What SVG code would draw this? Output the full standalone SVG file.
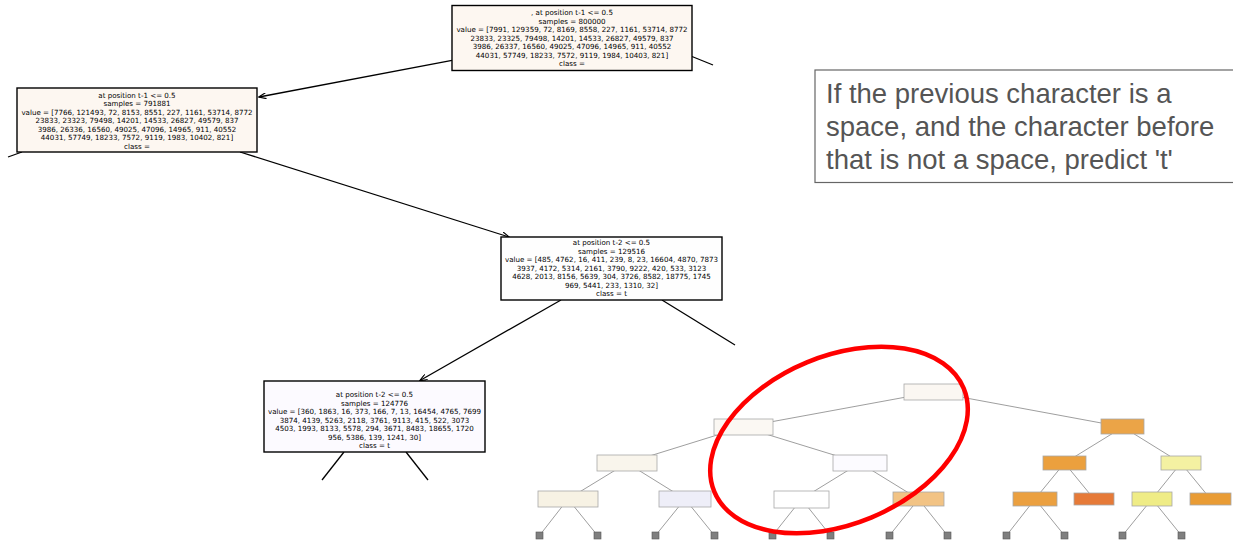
<svg xmlns="http://www.w3.org/2000/svg" width="1233" height="543" viewBox="0 0 1233 543">
<style>
.big{stroke:#000;stroke-width:1.4}
.bt{font-family:"DejaVu Sans",sans-serif;font-size:7.1px;fill:#000;text-anchor:middle}
.ed{stroke:#000;stroke-width:1.3;fill:none}
.se{stroke:#858585;stroke-width:0.8;fill:none}
.sn{stroke:#a8a8a8;stroke-width:0.8}
.lf{fill:#7f7f7f;stroke:#555;stroke-width:0.6}
.call{font-family:"Liberation Sans",Arial,sans-serif;font-size:27.5px;fill:#555}
</style>
<defs>
<marker id="ah" viewBox="0 0 10 8" refX="9.5" refY="4" markerWidth="8" markerHeight="6" orient="auto" markerUnits="userSpaceOnUse">
<path d="M0,0 L10,4 L0,8" fill="none" stroke="#000" stroke-width="1.5"/>
</marker>
</defs>
<rect width="1233" height="543" fill="#fff"/>

<g id="connectors">
<line class="ed" x1="452" y1="60.3" x2="259" y2="97" marker-end="url(#ah)"/>
<line class="ed" x1="692" y1="56.5" x2="713" y2="65"/>
<line class="ed" x1="22" y1="152" x2="8" y2="157"/>
<line class="ed" x1="240" y1="152" x2="509" y2="237" marker-end="url(#ah)"/>
<line class="ed" x1="561" y1="300" x2="420" y2="380.5" marker-end="url(#ah)"/>
<line class="ed" x1="662" y1="300" x2="735" y2="345"/>
<line class="ed" x1="344" y1="452" x2="322" y2="480"/>
<line class="ed" x1="406" y1="452" x2="428" y2="480"/>
<!-- small tree -->
<line class="se" x1="933.5" y1="392" x2="743" y2="427"/>
<line class="se" x1="933.5" y1="392" x2="1123" y2="427"/>
<line class="se" x1="743" y1="427" x2="627" y2="463"/>
<line class="se" x1="743" y1="427" x2="860" y2="463"/>
<line class="se" x1="1123" y1="427" x2="1064.5" y2="463"/>
<line class="se" x1="1123" y1="427" x2="1181" y2="463"/>
<line class="se" x1="627" y1="463" x2="568" y2="499"/>
<line class="se" x1="627" y1="463" x2="685" y2="499"/>
<line class="se" x1="860" y1="463" x2="801.5" y2="499"/>
<line class="se" x1="860" y1="463" x2="918.5" y2="499"/>
<line class="se" x1="1064.5" y1="463" x2="1035" y2="499"/>
<line class="se" x1="1064.5" y1="463" x2="1094" y2="499"/>
<line class="se" x1="1181" y1="463" x2="1152" y2="499"/>
<line class="se" x1="1181" y1="463" x2="1210.5" y2="499"/>
<line class="se" x1="568" y1="499" x2="539.5" y2="535.5"/>
<line class="se" x1="568" y1="499" x2="597.5" y2="535.5"/>
<line class="se" x1="685" y1="499" x2="655.5" y2="535.5"/>
<line class="se" x1="685" y1="499" x2="714.5" y2="535.5"/>
<line class="se" x1="801.5" y1="499" x2="772.5" y2="535.5"/>
<line class="se" x1="801.5" y1="499" x2="830.5" y2="535.5"/>
<line class="se" x1="918.5" y1="499" x2="889.5" y2="535.5"/>
<line class="se" x1="918.5" y1="499" x2="947.5" y2="535.5"/>
<line class="se" x1="1035" y1="499" x2="1006.5" y2="535.5"/>
<line class="se" x1="1035" y1="499" x2="1064.5" y2="535.5"/>
<line class="se" x1="1152" y1="499" x2="1122.5" y2="535.5"/>
<line class="se" x1="1152" y1="499" x2="1181.5" y2="535.5"/>
</g>

<g id="node-root">
<rect class="big" x="452" y="5.5" width="240" height="65" fill="#fdf7f1"/>
<text class="bt" x="572" y="15.3">, at position t-1 &lt;= 0.5</text>
<text class="bt" x="572" y="23.8">samples = 800000</text>
<text class="bt" x="572" y="32.3">value = [7991, 129359, 72, 8169, 8558, 227, 1161, 53714, 8772</text>
<text class="bt" x="572" y="40.8">23833, 23325, 79498, 14201, 14533, 26827, 49579, 837</text>
<text class="bt" x="572" y="49.3">3986, 26337, 16560, 49025, 47096, 14965, 911, 40552</text>
<text class="bt" x="572" y="57.8">44031, 57749, 18233, 7572, 9119, 1984, 10403, 821]</text>
<text class="bt" x="572" y="66.3">class = </text>
</g>

<g id="node-left">
<rect class="big" x="17" y="88" width="240" height="64" fill="#fdf7f1"/>
<text class="bt" x="137" y="97.6">at position t-1 &lt;= 0.5</text>
<text class="bt" x="137" y="106.1">samples = 791881</text>
<text class="bt" x="137" y="114.6">value = [7766, 121493, 72, 8153, 8551, 227, 1161, 53714, 8772</text>
<text class="bt" x="137" y="123.1">23833, 23323, 79498, 14201, 14533, 26827, 49579, 837</text>
<text class="bt" x="137" y="131.6">3986, 26336, 16560, 49025, 47096, 14965, 911, 40552</text>
<text class="bt" x="137" y="140.1">44031, 57749, 18233, 7572, 9119, 1983, 10402, 821]</text>
<text class="bt" x="137" y="148.6">class = </text>
</g>

<g id="node-mid">
<rect class="big" x="501" y="237" width="221" height="63" fill="#fefefe"/>
<text class="bt" x="611.5" y="245">at position t-2 &lt;= 0.5</text>
<text class="bt" x="611.5" y="253.5">samples = 129516</text>
<text class="bt" x="611.5" y="262">value = [485, 4762, 16, 411, 239, 8, 23, 16604, 4870, 7873</text>
<text class="bt" x="611.5" y="270.5">3937, 4172, 5314, 2161, 3790, 9222, 420, 533, 3123</text>
<text class="bt" x="611.5" y="279">4628, 2013, 8156, 5639, 304, 3726, 8582, 18775, 1745</text>
<text class="bt" x="611.5" y="287.5">969, 5441, 233, 1310, 32]</text>
<text class="bt" x="611.5" y="296">class = t</text>
</g>

<g id="node-low">
<rect class="big" x="264" y="381" width="221" height="71" fill="#fcfaff"/>
<text class="bt" x="374.5" y="397.3">at position t-2 &lt;= 0.5</text>
<text class="bt" x="374.5" y="405.8">samples = 124776</text>
<text class="bt" x="374.5" y="414.3">value = [360, 1863, 16, 373, 166, 7, 13, 16454, 4765, 7699</text>
<text class="bt" x="374.5" y="422.8">3874, 4139, 5263, 2118, 3761, 9113, 415, 522, 3073</text>
<text class="bt" x="374.5" y="431.3">4503, 1993, 8133, 5578, 294, 3671, 8483, 18655, 1720</text>
<text class="bt" x="374.5" y="439.8">956, 5386, 139, 1241, 30]</text>
<text class="bt" x="374.5" y="448.3">class = t</text>
</g>

<g id="small-tree">
<rect class="sn" x="904" y="384" width="59" height="16" fill="#fbf7f2"/>
<rect class="sn" x="714" y="419" width="59" height="16" fill="#fbf8f3"/>
<rect class="sn" x="1101" y="419" width="43" height="15" fill="#eba447"/>
<rect class="sn" x="597" y="455" width="60" height="16" fill="#f9f5ec"/>
<rect class="sn" x="833" y="455" width="54" height="16" fill="#fcfbff"/>
<rect class="sn" x="1043" y="456" width="43" height="14" fill="#eba03e"/>
<rect class="sn" x="1161" y="456" width="40" height="14" fill="#f4f1a2"/>
<rect class="sn" x="538" y="491" width="60" height="16" fill="#f7f2e4"/>
<rect class="sn" x="659" y="491" width="52" height="16" fill="#eeeef8"/>
<rect class="sn" x="774" y="491" width="55" height="17" fill="#ffffff"/>
<rect class="sn" x="893" y="492" width="51" height="14" fill="#f2c384"/>
<rect class="sn" x="1013" y="492" width="44" height="14" fill="#eba040"/>
<rect class="sn" x="1074" y="493" width="40" height="12" fill="#e67a38"/>
<rect class="sn" x="1132" y="492" width="40" height="14" fill="#efec86"/>
<rect class="sn" x="1190" y="493" width="41" height="12" fill="#e99c35"/>
<rect class="lf" x="536" y="532" width="7" height="7"/>
<rect class="lf" x="594" y="532" width="7" height="7"/>
<rect class="lf" x="652" y="532" width="7" height="7"/>
<rect class="lf" x="711" y="532" width="7" height="7"/>
<rect class="lf" x="769" y="532" width="7" height="7"/>
<rect class="lf" x="827" y="532" width="7" height="7"/>
<rect class="lf" x="886" y="532" width="7" height="7"/>
<rect class="lf" x="944" y="532" width="7" height="7"/>
<rect class="lf" x="1003" y="532" width="7" height="7"/>
<rect class="lf" x="1061" y="532" width="7" height="7"/>
<rect class="lf" x="1119" y="532" width="7" height="7"/>
<rect class="lf" x="1178" y="532" width="7" height="7"/>
</g>

<ellipse id="highlight" cx="839" cy="440" rx="135" ry="84" transform="rotate(-22.5 839 440)" fill="none" stroke="#ff0000" stroke-width="4.5"/>

<g id="callout">
<rect x="815" y="70" width="430" height="112.5" fill="#fff" stroke="#666" stroke-width="1.2"/>
<text class="call" x="826" y="103">If the previous character is a</text>
<text class="call" x="826" y="136">space, and the character before</text>
<text class="call" x="826" y="169">that is not a space, predict 't'</text>
</g>
</svg>
